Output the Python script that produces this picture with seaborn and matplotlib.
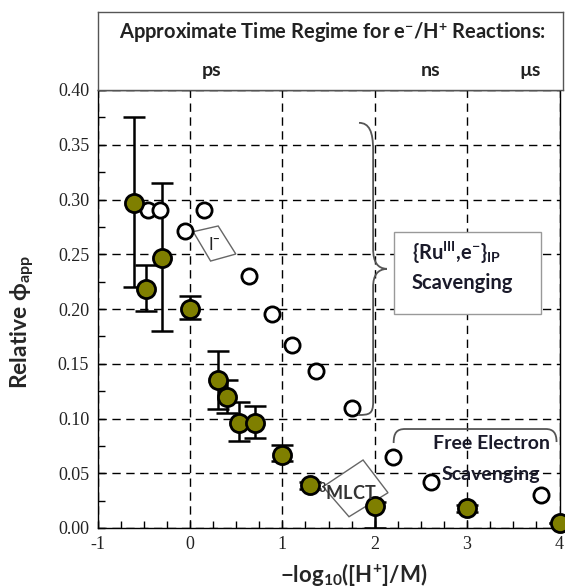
import numpy as np
import pandas as pd
import matplotlib
matplotlib.use("Agg")
import matplotlib.pyplot as plt
import seaborn as sns
from matplotlib.patches import Polygon, Rectangle, PathPatch
from matplotlib.path import Path
from matplotlib.ticker import MultipleLocator, FormatStrFormatter

# ---------------- data ----------------
filled_x = [-0.60, -0.47, -0.30, 0.00, 0.30, 0.40, 0.53, 0.70, 1.00, 1.30, 2.00, 3.00, 4.00]
filled_y = [0.297, 0.218, 0.247, 0.200, 0.135, 0.120, 0.096, 0.096, 0.067, 0.039, 0.020, 0.018, 0.005]
err_low = [0.077, 0.020, 0.067, 0.009, 0.026, 0.015, 0.017, 0.014, 0.006, 0.003, 0.020, 0.003, 0.0]
err_high = [0.078, 0.022, 0.068, 0.012, 0.027, 0.015, 0.019, 0.015, 0.009, 0.003, 0.004, 0.003, 0.0]

open_x = [-0.45, -0.32, -0.05, 0.15, 0.64, 0.89, 1.11, 1.37, 1.75, 2.20, 2.61, 3.80]
open_y = [0.290, 0.290, 0.271, 0.290, 0.230, 0.195, 0.167, 0.143, 0.110, 0.065, 0.042, 0.030]

x_ticks = [-1, 0, 1, 2, 3, 4]
y_ticks = [0.00, 0.05, 0.10, 0.15, 0.20, 0.25, 0.30, 0.35, 0.40]
time_labels = ["ps", "ns", "µs"]

# ---------------- style ----------------
sns.set_style("white")
plt.rcParams['font.family'] = ['Lato', 'DejaVu Sans']
plt.rcParams['mathtext.fontset'] = 'custom'
plt.rcParams['mathtext.rm'] = 'Lato'
plt.rcParams['mathtext.bf'] = 'Lato:bold'
plt.rcParams['mathtext.it'] = 'Lato:italic'
plt.rcParams['mathtext.default'] = 'bf'
plt.rcParams['axes.unicode_minus'] = False

fig = plt.figure(figsize=(5.65, 5.87), dpi=100)
W, H = 565, 587
def fr(x0, y0, x1, y1):
    return [x0 / W, 1 - y1 / H, (x1 - x0) / W, (y1 - y0) / H]

ax = fig.add_axes(fr(97.5, 90, 559.5, 528))
ax_top = fig.add_axes(fr(98.3, 11.7, 563, 90))

df_f = pd.DataFrame({"x": filled_x, "y": filled_y})
df_o = pd.DataFrame({"x": open_x, "y": open_y})

ax.errorbar(filled_x, filled_y, yerr=[err_low, err_high], fmt='none',
            ecolor='black', elinewidth=1.8, capsize=8, capthick=1.8, zorder=3)
sns.scatterplot(data=df_o, x="x", y="y", ax=ax, s=120, color='white',
                edgecolor='black', linewidth=2.0, zorder=4, clip_on=False, legend=False)
sns.scatterplot(data=df_f, x="x", y="y", ax=ax, s=170, color='#7f7f00',
                edgecolor='black', linewidth=2.0, zorder=5, clip_on=False, legend=False)

ax.set_xlim(-1, 4)
ax.set_ylim(0, 0.40)
ax.set_xticks(x_ticks)
ax.set_yticks(y_ticks)
ax.xaxis.set_minor_locator(MultipleLocator(0.25))
ax.yaxis.set_minor_locator(MultipleLocator(0.025))
ax.yaxis.set_major_formatter(FormatStrFormatter('%.2f'))
ax.tick_params(which='both', direction='in', length=5, width=1, color='black',
               bottom=True, left=True, top=False, right=False)
for lab in ax.get_xticklabels() + ax.get_yticklabels():
    lab.set_fontfamily('Liberation Serif')
    lab.set_fontsize(13)
    lab.set_color('#222222')
ax.tick_params(axis='x', pad=6)
ax.tick_params(axis='y', pad=6)
ax.grid(True, which='major', linestyle=(0, (6, 4)), color='black', linewidth=1.0)
for sp in ax.spines.values():
    sp.set_color('black')
    sp.set_linewidth(1.0)

ax.set_xlabel("\u2212log$_{\\mathbf{10}}$([H$^{\\mathbf{+}}$]/M)", fontsize=16, fontweight='bold')
ax.xaxis.label.set_va('center')
ax.xaxis.set_label_coords(0.554, -0.107)
ax.set_ylabel(r"Relative $\mathbf{\phi}_{\mathbf{app}}$", fontsize=16.5, fontweight='bold')
ax.yaxis.label.set_va('center')
ax.yaxis.set_label_coords(-0.163, 0.470)

# brace for {Ru,e} IP scavenging
brace = Path(
    [(1.83, 0.370), (1.94, 0.370), (1.983, 0.362), (1.983, 0.345),
     (1.983, 0.255),
     (1.983, 0.243), (2.03, 0.237), (2.13, 0.2367),
     (2.03, 0.236), (1.983, 0.231), (1.983, 0.220),
     (1.983, 0.115),
     (1.983, 0.104), (1.94, 0.1032), (1.82, 0.1032)],
    [Path.MOVETO, Path.CURVE4, Path.CURVE4, Path.CURVE4,
     Path.LINETO,
     Path.CURVE4, Path.CURVE4, Path.CURVE4,
     Path.CURVE4, Path.CURVE4, Path.CURVE4,
     Path.LINETO,
     Path.CURVE4, Path.CURVE4, Path.CURVE4])
ax.add_patch(PathPatch(brace, fill=False, edgecolor='#555555', lw=1.3, zorder=6))

ax.add_patch(Rectangle((2.21, 0.195), 1.585, 0.0755, facecolor='white',
                       edgecolor='#999999', lw=1.0, zorder=6))
ax.text(2.40, 0.2511, r"{Ru$^{\mathbf{III}}$,e$^{\mathbf{-}}$}$_{\mathbf{IP}}$",
        fontsize=14.5, fontweight='bold', color='#1a1a2a', ha='left', va='center', zorder=7)
ax.text(2.40, 0.2237, "Scavenging", fontsize=14.5, fontweight='bold',
        color='#1a1a2a', ha='left', va='center', zorder=7)

# bracket for free electron scavenging
fb = Path(
    [(2.205, 0.0776), (2.205, 0.087), (2.24, 0.0904), (2.33, 0.0904),
     (3.85, 0.0904),
     (3.93, 0.0904), (3.968, 0.087), (3.968, 0.0785)],
    [Path.MOVETO, Path.CURVE4, Path.CURVE4, Path.CURVE4,
     Path.LINETO,
     Path.CURVE4, Path.CURVE4, Path.CURVE4])
ax.add_patch(PathPatch(fb, fill=False, edgecolor='#555555', lw=1.3, zorder=6))
ax.text(3.26, 0.0774, "Free Electron", fontsize=14, fontweight='bold',
        color='#1a1a2a', ha='center', va='center', zorder=7)
ax.text(3.26, 0.0493, "Scavenging", fontsize=14, fontweight='bold',
        color='#1a1a2a', ha='center', va='center', zorder=7)

# I- box
ax.add_patch(Polygon([(0.036, 0.2706), (0.306, 0.2758), (0.497, 0.2502), (0.224, 0.2438)],
                     closed=True, facecolor='white', edgecolor='#666666', lw=1.0, zorder=3.5))
ax.text(0.26, 0.259, "I$^{\\mathbf{-}}$", fontsize=12, color='#222222', ha='center', va='center',
        zorder=6)

# 3MLCT box
ax.add_patch(Polygon([(1.441, 0.0377), (1.874, 0.0621), (2.144, 0.0322), (1.722, 0.0103)],
                     closed=True, facecolor='white', edgecolor='#666666', lw=1.0, zorder=3.5))
ax.text(1.70, 0.0326, r"$^{\mathbf{3}}$MLCT", fontsize=13, fontweight='bold',
        color='#333333', ha='center', va='center', zorder=6)

# top box
ax_top.set_xticks([])
ax_top.set_yticks([])
for sp in ax_top.spines.values():
    sp.set_color('#555555')
    sp.set_linewidth(1.0)
ax_top.text(0.505, 0.728, r"Approximate Time Regime for e$^{\mathbf{-}}$/H$^{\mathbf{+}}$ Reactions:",
            transform=ax_top.transAxes, fontsize=14.5, fontweight='bold', color='#222222',
            ha='center', va='center')
for lab, xf in zip(time_labels, [0.244, 0.715, 0.930]):
    ax_top.text(xf, 0.255, lab, transform=ax_top.transAxes, fontsize=14,
                fontweight='bold', color='#222222', ha='center', va='center')

fig.savefig("out.png", dpi=100)
